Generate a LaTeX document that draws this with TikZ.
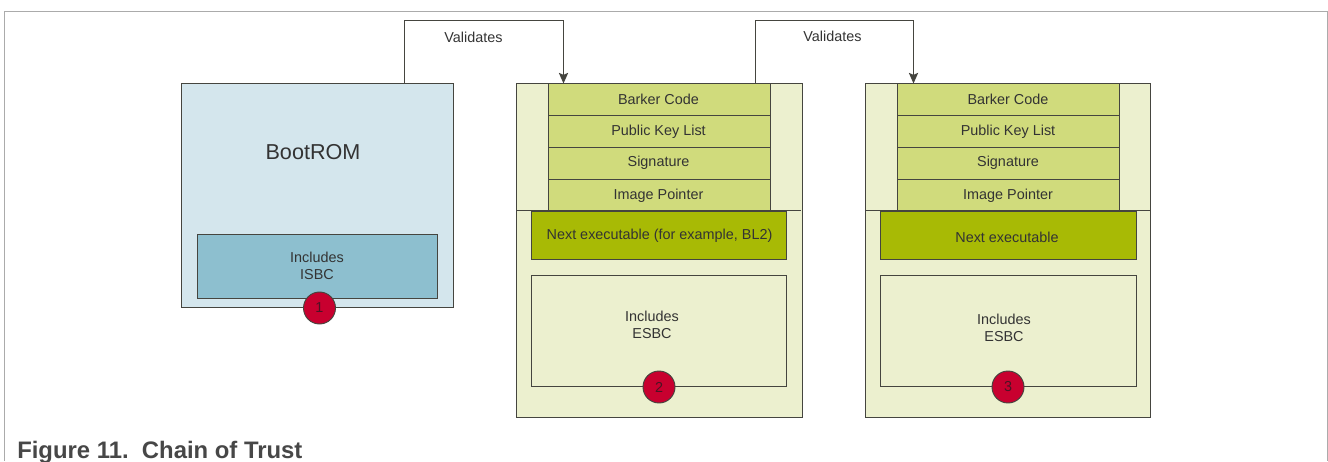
\documentclass[tikz,border=0pt]{standalone}
\usepackage{fontspec}
\setmainfont{Liberation Sans}
\usetikzlibrary{arrows.meta}
\definecolor{edgec}{HTML}{45453F}
\definecolor{textc}{HTML}{333333}
\definecolor{framec}{HTML}{ABABAB}
\definecolor{bootfill}{HTML}{D4E6ED}
\definecolor{isbcfill}{HTML}{8DBFCF}
\definecolor{palefill}{HTML}{ECF0CF}
\definecolor{hdrfill}{HTML}{D0DB7C}
\definecolor{nextfill}{HTML}{A8BA05}
\definecolor{redfill}{HTML}{C8002F}
\definecolor{digitc}{HTML}{4A1424}
% pixel-based box: name, style, x1, y1, x2, y2
\newcommand{\pxbox}[6]{%
  \pgfmathsetmacro{\bx}{(#3+#5)/2}\pgfmathsetmacro{\by}{(#4+#6)/2}%
  \pgfmathsetmacro{\bw}{(#5-#3)*0.75}\pgfmathsetmacro{\bh}{(#6-#4)*0.75}%
  \node[#2,minimum width=\bw pt,minimum height=\bh pt] (#1) at (\bx,\by) {};}
\tikzset{
  x=0.75pt,y=-0.75pt,
  blk/.style={draw=edgec,line width=0.72pt,inner sep=0pt,outer sep=0pt,rectangle},
  bootbox/.style={blk,fill=bootfill},
  isbcbox/.style={blk,fill=isbcfill},
  palebox/.style={blk,fill=palefill},
  hdrbox/.style={blk,fill=hdrfill},
  nextbox/.style={blk,fill=nextfill},
  txt/.style={text=textc,font=\fontsize{10.8pt}{13pt}\selectfont,align=center,inner sep=0pt},
  badge/.style={circle,draw=edgec,line width=0.7pt,fill=redfill,minimum size=24pt,inner sep=0pt,
     text=digitc,font=\fontsize{10.8pt}{12pt}\selectfont},
  conn/.style={draw=edgec,line width=0.72pt},
  connarrow/.style={conn,-{Stealth[length=8pt,width=7pt,inset=1.5pt]}},
}
\begin{document}
\begin{tikzpicture}
\useasboundingbox (0,0) rectangle (1328,461);
% page frame
\coordinate (fbl) at (4.5,461);
\coordinate (ftl) at (4.5,11.7);
\coordinate (ftr) at (1327,11.7);
\coordinate (fbr) at (1327,461);
\draw[framec,line width=0.75pt] (fbl) -- (ftl) -- (ftr) -- (fbr);

% BootROM
\pxbox{boot}{bootbox}{181}{83.5}{453}{307}
\pxbox{isbc}{isbcbox}{197}{234}{437}{298.5}
\node[txt,font=\fontsize{16.2pt}{18pt}\selectfont] (boottxt) at (313,152) {BootROM};
\node[txt] (isbctxt) at (317,266) {Includes\\ISBC};
\node[badge] (b1) at (319.5,308) {1};

% Image 2
\pxbox{imgA}{palebox}{516.5}{83.5}{802}{417.5}
\node[inner sep=0pt,outer sep=0pt] (sepAl) at (516.5,210.5) {};
\node[inner sep=0pt,outer sep=0pt] (sepAr) at (802,210.5) {};
\draw[conn] (sepAl) -- (sepAr);
\pxbox{a1}{hdrbox}{548}{83.5}{770.5}{115.5}
\pxbox{a2}{hdrbox}{548}{115.5}{770.5}{147.5}
\pxbox{a3}{hdrbox}{548}{147.5}{770.5}{179}
\pxbox{a4}{hdrbox}{548}{179}{770.5}{210.5}
\node[txt] (a1t) at (658.5,99.5) {Barker Code};
\node[txt] (a2t) at (658.5,131.5) {Public Key List};
\node[txt] (a3t) at (658.5,162.5) {Signature};
\node[txt] (a4t) at (658.5,195.5) {Image Pointer};
\pxbox{anext}{nextbox}{531.5}{211}{786.5}{259.5}
\node[txt] (anextt) at (659.5,235.5) {Next executable (for example, BL2)};
\pxbox{aesbc}{palebox}{531.5}{275}{786.5}{386}
\node[txt] (aesbct) at (652,325) {Includes\\ESBC};
\node[badge] (b2) at (659,387) {2};

% Image 3
\pxbox{imgB}{palebox}{865.3}{83.5}{1150.7}{417.5}
\node[inner sep=0pt,outer sep=0pt] (sepBl) at (865.3,210.5) {};
\node[inner sep=0pt,outer sep=0pt] (sepBr) at (1150.7,210.5) {};
\draw[conn] (sepBl) -- (sepBr);
\pxbox{c1}{hdrbox}{897.5}{83.5}{1119.5}{115.5}
\pxbox{c2}{hdrbox}{897.5}{115.5}{1119.5}{147.5}
\pxbox{c3}{hdrbox}{897.5}{147.5}{1119.5}{179}
\pxbox{c4}{hdrbox}{897.5}{179}{1119.5}{210.5}
\node[txt] (c1t) at (1008,99.5) {Barker Code};
\node[txt] (c2t) at (1008,131.5) {Public Key List};
\node[txt] (c3t) at (1008,162.5) {Signature};
\node[txt] (c4t) at (1008,195.5) {Image Pointer};
\pxbox{cnext}{nextbox}{880.5}{211}{1136}{259.5}
\node[txt] (cnextt) at (1007,237.5) {Next executable};
\pxbox{cesbc}{palebox}{880.5}{275}{1136}{386}
\node[txt] (cesbct) at (1004,328) {Includes\\ESBC};
\node[badge] (b3) at (1008,387) {3};

% connectors
\coordinate (r1a) at (404.5,20);
\coordinate (r1b) at (563.5,20);
\coordinate (r2a) at (755,20);
\coordinate (r2b) at (913.5,20);
\draw[connarrow] (boot.north -| r1a) -- (r1a) -- (r1b) -- (r1b |- a1.north);
\draw[connarrow] (a1.north -| r2a) -- (r2a) -- (r2b) -- (r2b |- c1.north);
\node[txt] (v1) at (473.5,37) {Validates};
\node[txt] (v2) at (832.5,36.5) {Validates};

% caption
\node[anchor=base west,inner sep=0pt,text=textc!90!white,font=\fontsize{17.9pt}{20pt}\selectfont\bfseries] (cap) at (17,458.5) {Figure 11.\ \ Chain of Trust};
\end{tikzpicture}
\end{document}
